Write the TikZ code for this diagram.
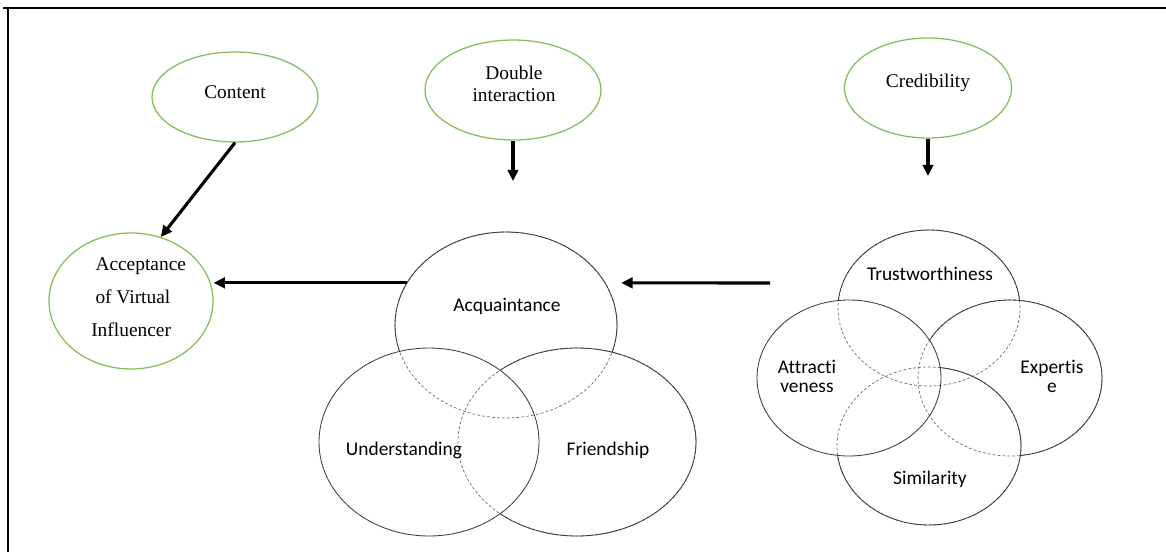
\documentclass[tikz,border=0pt]{standalone}
\usepackage{fontspec}
\setmainfont{Liberation Serif}
\newfontfamily\vennfont[Ligatures={NoCommon,NoContextual}]{Carlito}
\usetikzlibrary{shapes.geometric,arrows.meta}
\definecolor{ellgreen}{RGB}{130,190,90}
\definecolor{ringgray}{RGB}{60,60,60}
\newlength\pxu
\setlength\pxu{0.025cm}
\begin{document}
\begin{tikzpicture}[x=0.025cm,y=-0.025cm,
  greenell/.style={ellipse, draw=ellgreen, line width=0.9pt, inner sep=0pt},
  vshape/.style={ellipse, draw=none, inner sep=0pt},
  serif/.style={inner sep=0pt, font=\fontsize{13.8}{16}\selectfont},
  vtxt/.style={inner sep=0pt, font=\vennfont\fontsize{13.8}{16}\selectfont},
  ring/.style={draw=ringgray, line width=0.6pt},
  hidden/.style={draw=gray!85!black, line width=0.5pt, dash pattern=on 2pt off 1.5pt},
  arr/.style={line width=2.2pt, -{Triangle[length=8pt,width=7.5pt]}},
  frame/.style={line width=1.6pt, black}]
\useasboundingbox (0,0) rectangle (1166,552);

% frame
\coordinate (ftl) at (7.7,8.3);
\coordinate (ftr) at (1166,8.3);
\coordinate (fbl) at (7.7,552);
\draw[frame] (3,8.3) -- (ftr);
\draw[frame] (ftl) -- (fbl);

% green ellipses
\node[greenell, minimum width=166\pxu, minimum height=90\pxu] (content) at (235,97) {};
\node[serif, anchor=base] (contentt) at (235,98) {Content};
\node[greenell, minimum width=176\pxu, minimum height=100\pxu] (dbl) at (513,90) {};
\node[serif, anchor=north, align=center, font=\fontsize{13.8}{15.4}\selectfont] (dblt) at (514,66) {Double\\interaction};
\node[greenell, minimum width=167\pxu, minimum height=100\pxu] (cred) at (928,88) {};
\node[serif, anchor=base] (credt) at (928,87.7) {Credibility};
\node[greenell, minimum width=164\pxu, minimum height=136\pxu] (acc) at (131,301) {};
\node[serif, anchor=north west, align=left, font=\fontsize{13.8}{23.6}\selectfont] (acct) at (91,257) {\hspace*{3pt}Acceptance\\\hspace*{3pt}of Virtual\\Influencer};

% Venn 1 shapes
\node[vshape, minimum width=222\pxu, minimum height=186\pxu] (acq) at (506,325) {};
\node[vshape, minimum width=220\pxu, minimum height=188\pxu] (und) at (429,442) {};
\node[vshape, minimum width=238\pxu, minimum height=188\pxu] (fri) at (577,442) {};

\draw[hidden] (acq.center) ellipse [x radius=111\pxu, y radius=93\pxu];
\draw[hidden] (fri.center) ellipse [x radius=119\pxu, y radius=94\pxu];
\draw[ring] (und.center) ellipse [x radius=110\pxu, y radius=94\pxu];
\begin{scope}[even odd rule]
  \clip (0,0) rectangle (1166,552) (und.center) ellipse [x radius=110\pxu, y radius=94\pxu];
  \draw[ring] (fri.center) ellipse [x radius=119\pxu, y radius=94\pxu];
  \begin{scope}[even odd rule]
    \clip (0,0) rectangle (1166,552) (fri.center) ellipse [x radius=119\pxu, y radius=94\pxu];
    \draw[ring] (acq.center) ellipse [x radius=111\pxu, y radius=93\pxu];
  \end{scope}
\end{scope}
\node[vtxt, anchor=base] (acqt) at (507,311.5) {Acquaintance};
\node[vtxt, anchor=base] (undt) at (404,455) {Understanding};
\node[vtxt, anchor=base] (frit) at (608,455) {Friendship};

% Venn 2 shapes
\node[vshape, minimum width=182\pxu, minimum height=156\pxu] (tru) at (929,308) {};
\node[vshape, minimum width=184\pxu, minimum height=156\pxu] (att) at (849,378) {};
\node[vshape, minimum width=184\pxu, minimum height=156\pxu] (exp) at (1010,378) {};
\node[vshape, minimum width=184\pxu, minimum height=158\pxu] (sim) at (929,446) {};

\draw[hidden] (tru.center) ellipse [x radius=91\pxu, y radius=78\pxu];
\draw[hidden] (exp.center) ellipse [x radius=92\pxu, y radius=78\pxu];
\draw[hidden] (sim.center) ellipse [x radius=92\pxu, y radius=79\pxu];
\draw[ring] (att.center) ellipse [x radius=92\pxu, y radius=78\pxu];
\begin{scope}[even odd rule]
  \clip (0,0) rectangle (1166,552) (att.center) ellipse [x radius=92\pxu, y radius=78\pxu];
  \draw[ring] (sim.center) ellipse [x radius=92\pxu, y radius=79\pxu];
  \begin{scope}[even odd rule]
    \clip (0,0) rectangle (1166,552) (sim.center) ellipse [x radius=92\pxu, y radius=79\pxu];
    \draw[ring] (exp.center) ellipse [x radius=92\pxu, y radius=78\pxu];
    \begin{scope}[even odd rule]
      \clip (0,0) rectangle (1166,552) (exp.center) ellipse [x radius=92\pxu, y radius=78\pxu];
      \draw[ring] (tru.center) ellipse [x radius=91\pxu, y radius=78\pxu];
    \end{scope}
  \end{scope}
\end{scope}
\node[vtxt, anchor=base] (trut) at (930,280) {Trustworthiness};
\node[vtxt, anchor=north, align=center, font=\vennfont\fontsize{13.8}{13.5}\selectfont] (attt) at (807,359.5) {Attracti\\veness};
\node[vtxt, anchor=north, align=center, font=\vennfont\fontsize{13.8}{13.5}\selectfont] (expt) at (1052,359.5) {Expertis\\e};
\node[vtxt, anchor=base] (simt) at (930,484) {Similarity};

% connectors
\coordinate (dblend) at (513,181);
\coordinate (credend) at (928,176);
\coordinate (crarrs) at (770,283);
\draw[arr] (content.south) -- (acc.65);
\draw[arr] (dbl.south) -- (dblend);
\draw[arr] (cred.south) -- (credend);
\draw[arr] (acq.157) -- (acc.east |- acq.157);
\draw[arr] (crarrs) -- ([xshift=16\pxu]acq.23);
\end{tikzpicture}
\end{document}
